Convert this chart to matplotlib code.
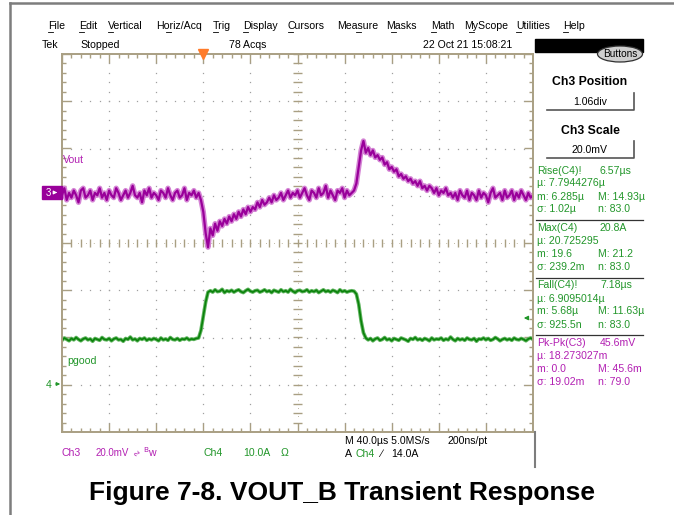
import numpy as np
import matplotlib
matplotlib.use('Agg')
import matplotlib.pyplot as plt
from matplotlib.patches import Rectangle, Ellipse
from matplotlib.collections import LineCollection

plt.rcParams['font.family'] = ['Liberation Sans', 'DejaVu Sans']

# base de tempo: -120 us ate 280 us, uma amostra a cada 2 us
t_inicio, t_fim, t_passo = -120, 280, 2

# Ch3 - Vout (mV, acoplamento AC)
vout_mv = [
    # -120 .. -2 us
    -1, 2, -3, 0, -2, 1, -1, -4, 1, 2,
    -2, -1, 1, -3, 0, -1, 2, -2, 0, -3,
    1, -1, -2, 2, 0, -3, -1, 1, -2, 0,
    3, -1, -2, 0, -4, 1, -1, 2, -2, 0,
    -1, -3, 1, 0, -2, 2, -1, -3, 0, 1,
    -2, -1, 2, -3, 0, -1, 1, -2, 0, -3,
    # 0 .. 78 us (degrau de carga)
    -8, -17, -23, -15, -18, -13, -16, -12, -14, -11,
    -13, -10, -12, -9, -11, -8, -10, -7, -9, -6,
    -8, -6, -7, -4, -6, -3, -5, -4, -2, -4,
    -1, -3, -2, 0, -3, -1, 1, -2, 0, -1,
    # 80 .. 126 us
    1, -2, 0, 2, -1, -3, 1, 0, -2, 2,
    -1, 0, 3, -2, 1, -1, -3, 1, 0, 2,
    -2, 1, -1, 0,
    # 128 .. 210 us (alivio de carga)
    1, 4, 11, 18, 22, 17, 19, 16, 18, 15,
    16, 14, 15, 12, 13, 10, 11, 9, 10, 7,
    8, 6, 7, 5, 6, 4, 5, 3, 5, 2,
    3, 1, 3, 2, 0, 2, -1, 1, 0, 2,
    -1, 0,
    # 212 .. 280 us
    -2, 0, -3, 1, -1, -2, 1, -3, 0, -1,
    -3, 1, -2, 0, -1, -4, 0, 2, -2, -1,
    0, -3, 1, -2, -1, 1, -3, 0, -2, 1,
    -1, -3, 0, -2, -1,
]

# Ch4 - corrente de carga (A)
corrente_a = [
    # -120 .. 4 us
    9.4, 9.9, 9.6, 9.3, 9.8, 9.5, 10.0, 9.6, 9.3, 9.7,
    9.9, 9.5, 9.7, 9.2, 9.8, 9.6, 9.4, 10.0, 9.6, 9.5,
    9.8, 9.3, 9.7, 9.9, 9.5, 9.6, 9.2, 9.8, 9.6, 10.1,
    9.5, 9.7, 9.3, 9.8, 9.6, 9.9, 9.4, 9.7, 9.5, 9.8,
    9.6, 9.3, 9.9, 9.5, 9.7, 9.4, 10.0, 9.6, 9.5, 9.8,
    9.4, 9.7, 9.6, 9.9, 9.5, 9.7, 9.6, 9.8,
    9.9, 11.5, 14.5, 17.5, 19.6,
    # 6 .. 126 us
    19.9, 19.6, 20.1, 19.7, 19.8, 20.2, 19.5, 19.9, 19.7, 20.0,
    19.6, 19.9, 20.1, 19.7, 19.5, 19.9, 20.2, 19.8, 19.6, 19.9,
    20.0, 19.6, 19.8, 20.1, 19.7, 19.9, 19.5, 20.0, 19.8, 19.6,
    20.1, 19.7, 19.9, 19.6, 20.2, 19.8, 19.5, 19.9, 20.0, 19.7,
    19.8, 20.1, 19.6, 19.9, 19.7, 20.0, 19.5, 19.8, 20.1, 19.7,
    19.9, 19.6, 20.0, 19.8, 19.5, 20.1, 19.7, 19.9, 19.6, 19.8,
    19.9,
    # 128 .. 138 us
    19.8, 19.2, 17.0, 13.5, 11.0, 9.9,
    # 140 .. 280 us
    9.5, 9.8, 9.3, 9.7, 9.9, 9.4, 9.6, 10.0, 9.5, 9.7,
    9.3, 9.8, 9.6, 9.4, 9.9, 9.7, 9.5, 9.2, 9.8, 9.6,
    10.0, 9.5, 9.7, 9.4, 9.8, 9.6, 9.3, 9.9, 9.5, 9.7,
    9.6, 9.9, 9.4, 9.7, 9.5, 10.1, 9.6, 9.3, 9.8, 9.5,
    9.7, 9.4, 9.9, 9.6, 9.5, 9.8, 9.2, 9.7, 9.6, 9.9,
    9.5, 9.8, 9.4, 9.6, 10.0, 9.7, 9.3, 9.6, 9.8, 9.5,
    9.7, 9.4, 9.9, 9.6, 9.5, 9.8, 9.6, 9.3, 9.7, 9.9,
    9.6,
]

# posicao e escala dos canais (div, unidade/div)
ch3_pos, ch3_escala = 1.06, 20.0
ch4_pos, ch4_escala = -3.0, 10.0
us_por_div = 40.0

# medidas do painel lateral: (titulo, valor, mu, m, M, sigma, n, cor)
medidas = [
    ('Rise(C4)!', '6.57\u00b5s', '7.7944276\u00b5', '6.285\u00b5', '14.93\u00b5', '1.02\u00b5', '83.0', 'verde'),
    ('Max(C4)', '20.8A', '20.725295', '19.6', '21.2', '239.2m', '83.0', 'verde'),
    ('Fall(C4)!', '7.18\u00b5s', '6.9095014\u00b5', '5.68\u00b5', '11.63\u00b5', '925.5n', '83.0', 'verde'),
    ('Pk-Pk(C3)', '45.6mV', '18.273027m', '0.0', '45.6m', '19.02m', '79.0', 'roxo'),
]

menu = ['File', 'Edit', 'Vertical', 'Horiz/Acq', 'Trig', 'Display', 'Cursors',
        'Measure', 'Masks', 'Math', 'MyScope', 'Utilities', 'Help']

ROXO = '#99009a'
ROXO_CLARO = '#d483d4'
ROXO_TXT = '#b21fb2'
VERDE = '#0b820b'
VERDE_CLARO = '#5fb45f'
VERDE_TXT = '#22962a'
BEGE = '#a99f83'
CINZA = '#7d7d7d'


def main():
    fig = plt.figure(figsize=(6.74, 5.15), dpi=100)
    W, H = 674.0, 515.0

    # ---------- graticula ----------
    ax = fig.add_axes([62 / W, 1 - 432 / H, 471 / W, 378 / H])
    ax.set_xlim(t_inicio, t_fim)
    ax.set_ylim(-4, 4)
    ax.set_xticks([])
    ax.set_yticks([])
    for s in ax.spines.values():
        s.set_color(BEGE)
        s.set_linewidth(1.4)

    px_x = us_por_div / 47.0   # us por pixel
    px_y = 1 / 47.25           # div por pixel

    # pontos da grade
    ys_pts = np.arange(-4, 4.01, 0.2)
    xs_pts = np.arange(t_inicio, t_fim + 0.1, us_por_div / 5)
    for k in range(1, 10):
        xv = t_inicio + k * us_por_div
        if k == 5:
            continue
        ax.plot(np.full(len(ys_pts), xv), ys_pts, ls='none', marker='s',
                ms=0.9, color='#a0a0a0', mew=0)
    for yv in range(-3, 4):
        if yv == 0:
            continue
        ax.plot(xs_pts, np.full(len(xs_pts), yv), ls='none', marker='s',
                ms=0.9, color='#a0a0a0', mew=0)

    # marcas nas bordas e nas linhas centrais
    segs = []
    for i, xv in enumerate(xs_pts):
        maior = (i % 5 == 0)
        L = (9 if maior else 4) * px_y
        segs.append([(xv, -4), (xv, -4 + L)])
        segs.append([(xv, 4), (xv, 4 - L)])
        segs.append([(xv, -4 * px_y), (xv, 4 * px_y)])
    for i, yv in enumerate(ys_pts):
        maior = (i % 5 == 0)
        L = (9 if maior else 4) * px_x
        segs.append([(t_inicio, yv), (t_inicio + L, yv)])
        segs.append([(t_fim, yv), (t_fim - L, yv)])
        xc = t_inicio + 5 * us_por_div
        segs.append([(xc - 4 * px_x, yv), (xc + 4 * px_x, yv)])
    ax.add_collection(LineCollection(segs, colors=BEGE, linewidths=1.0))
    xc = t_inicio + 5 * us_por_div
    ax.plot([xc, xc], [-4, 4], color=BEGE, lw=0.6, ls=(0, (1, 8.4)))
    ax.plot([t_inicio, t_fim], [0, 0], color=BEGE, lw=0.6, ls=(0, (1, 8.4)))

    # ---------- formas de onda ----------
    t = np.arange(t_inicio, t_fim + 0.1, t_passo)
    v_div = ch3_pos + np.array(vout_mv) / ch3_escala
    i_div = ch4_pos + np.array(corrente_a) / ch4_escala

    ax.plot(t, i_div, color=VERDE_CLARO, lw=2.6)
    ax.plot(t, i_div, color=VERDE, lw=1.2)
    ax.plot(t, v_div, color=ROXO_CLARO, lw=3.8)
    ax.plot(t, v_div, color=ROXO, lw=1.6)

    # marcador do trigger (T = 0)
    ax.plot([0], [4], marker='v', ms=7, color='#ff7b2a', clip_on=False, zorder=6)

    # ---------- camada da interface ----------
    ov = fig.add_axes([0, 0, 1, 1], zorder=5)
    ov.set_xlim(0, W)
    ov.set_ylim(H, 0)
    ov.axis('off')
    ov.patch.set_alpha(0)

    # bordas cinzas
    ov.plot([10, 10], [3, H], color=CINZA, lw=1.8)
    ov.plot([10, W], [3, 3], color=CINZA, lw=1.8)
    ov.plot([535, 535], [432, 467], color=CINZA, lw=1.5)

    # menu
    fs = 7.6
    xs_menu = [48, 79, 108, 156, 213, 243, 288, 337, 386, 431, 464, 516, 563]
    sub = [0, 0, 0, 2, 0, 0, 0, 4, 1, 0, 1, 0, 0]
    for x0, nome, k in zip(xs_menu, menu, sub):
        ov.text(x0, 26, nome, fontsize=fs, va='center', ha='left')
        ov.plot([x0 + k * 4.8, x0 + k * 4.8 + 5], [31.5, 31.5], color='k', lw=0.6)

    ov.text(42, 45.5, 'Tek', fontsize=fs, va='center')
    ov.text(80, 45.5, 'Stopped', fontsize=fs, va='center')
    ov.text(229, 45.5, '78 Acqs', fontsize=fs, va='center')
    ov.text(423, 45.5, '22 Oct 21 15:08:21', fontsize=fs, va='center')

    # barra preta e botao
    ov.add_patch(Rectangle((535, 39), 108, 13, color='k'))
    ov.add_patch(Ellipse((620, 54), 45, 16, facecolor='#cfcfcf', edgecolor='#303030', lw=0.9))
    ov.text(620, 54, 'Buttons', fontsize=7.2, ha='center', va='center')

    # posicao e escala do Ch3
    ov.text(590, 82, 'Ch3 Position', fontsize=8.8, fontweight='bold', ha='center', va='center')
    ov.text(590, 102, '1.06div', fontsize=fs, ha='center', va='center')
    ov.plot([547, 634, 634], [110, 110, 93], color='#555555', lw=1.2)
    ov.text(590, 131, 'Ch3 Scale', fontsize=8.8, fontweight='bold', ha='center', va='center')
    ov.text(590, 150, '20.0mV', fontsize=fs, ha='center', va='center')
    ov.plot([547, 634, 634], [157.5, 157.5, 141], color='#555555', lw=1.2)

    # medidas
    y0 = 170.5
    for j, (tit, val, mu, mn, mx, sg, n, cor) in enumerate(medidas):
        c = VERDE_TXT if cor == 'verde' else ROXO_TXT
        y = y0 + j * 57.5
        ov.text(537, y, tit, fontsize=fs, color=c, va='center')
        ov.text(600, y, val, fontsize=fs, color=c, va='center')
        ov.text(537, y + 13, '\u00b5: ' + mu, fontsize=fs, color=c, va='center')
        ov.text(537, y + 26, 'm: ' + mn, fontsize=fs, color=c, va='center')
        ov.text(598, y + 26, 'M: ' + mx, fontsize=fs, color=c, va='center')
        ov.text(537, y + 39, '\u03c3: ' + sg, fontsize=fs, color=c, va='center')
        ov.text(598, y + 39, 'n: ' + n, fontsize=fs, color=c, va='center')
        if j < 3:
            ov.plot([536, 643], [y + 49.5, y + 49.5], color='#333333', lw=0.9)

    # marcadores de canal a esquerda
    ov.add_patch(Rectangle((41.5, 185.5), 20, 13, color=ROXO))
    ov.text(46, 192.5, '3', fontsize=7, color='white', va='center')
    ov.annotate('', xy=(60, 192.5), xytext=(52, 192.5),
                arrowprops=dict(arrowstyle='-|>', color='white', lw=0.8, mutation_scale=5))
    ov.text(46, 385, '4', fontsize=7.5, color=VERDE_TXT, va='center')
    ov.annotate('', xy=(63, 384), xytext=(53, 384),
                arrowprops=dict(arrowstyle='-|>', color=VERDE_TXT, lw=0.8, mutation_scale=5))
    # nivel do trigger
    ov.annotate('', xy=(521, 318), xytext=(531, 318),
                arrowprops=dict(arrowstyle='-|>', color=VERDE_TXT, lw=0.9, mutation_scale=6))

    ov.text(63, 160, 'Vout', fontsize=fs, color=ROXO_TXT, va='center')
    ov.text(67, 361, 'pgood', fontsize=fs, color=VERDE_TXT, va='center')

    # linha inferior de status
    ov.text(62, 453, 'Ch3', fontsize=fs, color=ROXO_TXT, va='center')
    ov.text(96, 453, '20.0mV', fontsize=7.0, color=ROXO_TXT, va='center')
    ov.text(131, 453, '\u223f', fontsize=6.5, color=ROXO_TXT, va='center',
            family=['DejaVu Sans'], rotation=70)
    ov.text(143, 452, '$^{\\mathrm{B}}$w', fontsize=fs, color=ROXO_TXT, va='center')
    ov.text(203, 453, 'Ch4', fontsize=fs, color=VERDE_TXT, va='center')
    ov.text(243, 453, '10.0A', fontsize=fs, color=VERDE_TXT, va='center')
    ov.text(281, 453, '\u03a9', fontsize=fs, color=VERDE_TXT, va='center')
    ov.text(345, 441.5, 'M 40.0\u00b5s 5.0MS/s', fontsize=fs, va='center')
    ov.text(448, 441.5, '200ns/pt', fontsize=fs, va='center')
    ov.text(345, 454, 'A', fontsize=fs, va='center')
    ov.text(356, 454, 'Ch4', fontsize=fs, color=VERDE_TXT, va='center')
    ov.text(380, 454, '\u2215', fontsize=fs, va='center')
    ov.text(391, 454, '14.0A', fontsize=fs, va='center')

    # legenda da figura
    ov.text(342, 500, 'Figure 7-8. VOUT_B Transient Response', fontsize=19,
            fontweight='bold', ha='center', va='baseline')

    fig.savefig('out.png', dpi=100)


if __name__ == '__main__':
    main()
